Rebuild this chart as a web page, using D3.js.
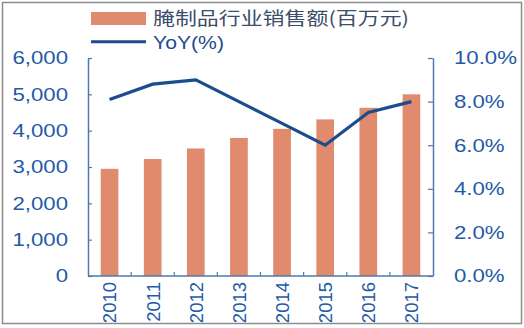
<!DOCTYPE html>
<html>
<head>
<meta charset="utf-8">
<script src="https://cdn.jsdelivr.net/npm/d3@7/dist/d3.min.js"></script>
<style>
  html, body { margin: 0; padding: 0; background: #fff; }
  svg { display: block; }
</style>
</head>
<body>
<script>
// Pickled products industry sales (million yuan) and year-over-year growth
const years = ["2010", "2011", "2012", "2013", "2014", "2015", "2016", "2017"];
const sales = [2950, 3220, 3510, 3800, 4050, 4310, 4630, 5000];
const yoy = [8.1, 8.8, 9.0, 8.0, 7.0, 6.0, 7.5, 8.0];
const leftTicks = [0, 1000, 2000, 3000, 4000, 5000, 6000];
const rightTicks = [0, 2, 4, 6, 8, 10];
const legendBar = "腌制品行业销售额(百万元)";
const legendLine = "YoY(%)";

const W = 524, H = 328;
const plot = { left: 88, right: 433, top: 58, bottom: 276 };

const barColor = "#e08a6e";
const lineColor = "#1b4d8e";
const axisColor = "#4f79ad";
const labelColor = "#1f5aa6";

const svg = d3.select("body").append("svg")
  .attr("width", W).attr("height", H);

// frame around the figure
svg.append("rect")
  .attr("x", 2.5).attr("y", 2.5)
  .attr("width", 519).attr("height", 321)
  .attr("fill", "#fff").attr("stroke", "#8c8c8c").attr("stroke-width", 1.5);

const x = d3.scaleBand().domain(years)
  .range([plot.left, plot.right]).paddingInner(0.59).paddingOuter(0.295);
const yL = d3.scaleLinear().domain([0, 6000]).range([plot.bottom, plot.top]);
const yR = d3.scaleLinear().domain([0, 10]).range([plot.bottom, plot.top]);

// bars
svg.append("g").selectAll("rect").data(years).join("rect")
  .attr("x", d => x(d))
  .attr("width", x.bandwidth())
  .attr("y", (d, i) => yL(sales[i]))
  .attr("height", (d, i) => yL(0) - yL(sales[i]))
  .attr("fill", barColor);

// growth line
const line = d3.line()
  .x((d, i) => x(years[i]) + x.bandwidth() / 2)
  .y(d => yR(d));
svg.append("path").datum(yoy)
  .attr("d", line)
  .attr("fill", "none")
  .attr("stroke", lineColor)
  .attr("stroke-width", 3.2)
  .attr("stroke-linejoin", "miter");

// left axis
const gL = svg.append("g")
  .attr("transform", `translate(${plot.left},0)`)
  .call(d3.axisLeft(yL).tickValues(leftTicks).tickFormat(d3.format(","))
    .tickSizeInner(-4).tickSizeOuter(0).tickPadding(20));
// right axis
const gR = svg.append("g")
  .attr("transform", `translate(${plot.right},0)`)
  .call(d3.axisRight(yR).tickValues(rightTicks).tickFormat(d => d3.format(".1f")(d) + "%")
    .tickSizeInner(-5).tickSizeOuter(0).tickPadding(21));

// widen a text element horizontally by a factor
function widen(sel, k) {
  sel.each(function () {
    const len = this.getComputedTextLength();
    d3.select(this).attr("textLength", len * k).attr("lengthAdjust", "spacingAndGlyphs");
  });
}

[gL, gR].forEach(g => {
  g.select(".domain").attr("stroke", axisColor).attr("stroke-width", 1.5);
  g.selectAll(".tick line").attr("stroke", axisColor).attr("stroke-width", 1.2);
  g.selectAll(".tick text")
    .attr("fill", labelColor)
    .style("font-family", "'Liberation Sans', Arial, sans-serif")
    .style("font-size", "18.5px")
    .call(widen, 1.2);
});

// bottom axis with ticks on category boundaries
const gB = svg.append("g").attr("transform", `translate(0,${plot.bottom})`);
gB.append("line")
  .attr("x1", plot.left).attr("x2", plot.right)
  .attr("stroke", axisColor).attr("stroke-width", 1.5);
const step = x.step();
const bounds = d3.range(1, years.length).map(i => plot.left + i * step);
gB.selectAll("line.tick").data(bounds).join("line")
  .attr("class", "tick")
  .attr("x1", d => d).attr("x2", d => d)
  .attr("y1", 0).attr("y2", -4)
  .attr("stroke", axisColor).attr("stroke-width", 1.2);
gB.selectAll("text").data(years).join("text")
  .attr("transform", d => `translate(${x(d) + x.bandwidth() / 2},6) rotate(-90)`)
  .attr("text-anchor", "end")
  .attr("dy", "0.37em")
  .attr("fill", labelColor)
  .style("font-family", "'Liberation Sans', Arial, sans-serif")
  .style("font-size", "18.5px")
  .text(d => d);

// legend
const lg = svg.append("g");
lg.append("rect")
  .attr("x", 91).attr("y", 12).attr("width", 55).attr("height", 13)
  .attr("fill", barColor);
lg.append("text")
  .attr("x", 153).attr("y", 25)
  .attr("textLength", 256).attr("lengthAdjust", "spacingAndGlyphs")
  .attr("fill", "#3d4d6c")
  .style("font-family", "'Noto Sans CJK SC', sans-serif")
  .style("font-size", "18px")
  .text(legendBar);
lg.append("line")
  .attr("x1", 91).attr("x2", 146).attr("y1", 41.7).attr("y2", 41.7)
  .attr("stroke", lineColor).attr("stroke-width", 3);
lg.append("text")
  .attr("x", 153).attr("y", 49)
  .attr("textLength", 71).attr("lengthAdjust", "spacingAndGlyphs")
  .attr("fill", "#1f4c8c")
  .style("font-family", "'Liberation Sans', Arial, sans-serif")
  .style("font-size", "19px")
  .text(legendLine);
</script>
</body>
</html>
